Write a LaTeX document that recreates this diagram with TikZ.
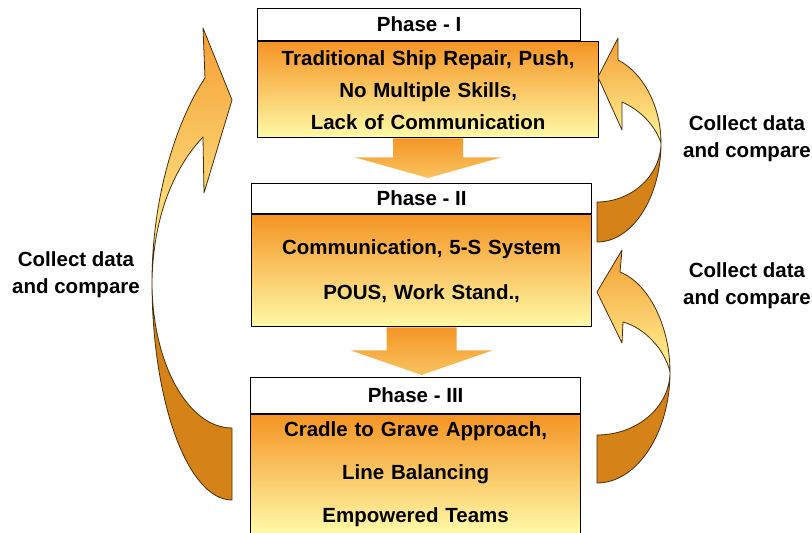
\documentclass[tikz,border=0pt]{standalone}
\usepackage{fontspec}
\setmainfont{Liberation Sans}
\usepackage{tikz}
\usetikzlibrary{positioning}
\usetikzlibrary{calc}
\usetikzlibrary{backgrounds}
\definecolor{boxtop}{RGB}{245,148,35}
\definecolor{boxmid}{RGB}{252,218,112}
\definecolor{boxbot}{RGB}{255,250,168}
\definecolor{arrtop}{RGB}{244,150,38}
\definecolor{arrbot}{RGB}{250,195,95}
\definecolor{bendlight}{RGB}{245,158,52}
\definecolor{bendpale}{RGB}{255,245,150}
\definecolor{benddarkc}{RGB}{213,130,25}
\definecolor{bendline}{RGB}{70,45,15}

\begin{document}
\begin{tikzpicture}[x=1pt,y=-1pt,line join=round,
  phasehead/.style={draw=black,line width=1.2pt,fill=white,inner sep=0pt,anchor=north west,font=\fontsize{20.5}{24}\selectfont\bfseries},
  phasebody/.style={draw=black,line width=1.2pt,top color=boxtop,middle color=boxmid,bottom color=boxbot,inner sep=0pt,anchor=north west,align=center},
  downarr/.style={top color=arrtop,bottom color=arrbot},
  bendpart/.style={draw=bendline,line width=0.8pt,top color=bendlight,bottom color=bendpale},
  benddark/.style={draw=bendline,line width=0.8pt,fill=benddarkc},
  note/.style={align=center,inner sep=0pt,font=\fontsize{20.5}{27}\selectfont\bfseries}]
\useasboundingbox (0,0) rectangle (812,533);
% phase boxes
\node[phasehead,minimum width=323,minimum height=32] (head1) at (257,8) {Phase - I};
\node[phasebody,minimum width=341,minimum height=96,text width=335,font=\fontsize{20.5}{32}\selectfont\bfseries] (body1) at (head1.south west) {Traditional Ship Repair, Push,\\No Multiple Skills,\\Lack of Communication};
\node[phasehead,minimum width=340,minimum height=30] (head2) at (251,183) {Phase - II};
\node[phasebody,minimum width=340,minimum height=112,text width=334,font=\fontsize{20.5}{45}\selectfont\bfseries] (body2) at (head2.south west) {Communication, 5-S System\\POUS, Work Stand.,};
\node[phasehead,minimum width=330,minimum height=36] (head3) at (250,377) {Phase - III};
\node[phasebody,minimum width=330,minimum height=119,text width=324,font=\fontsize{20.5}{43}\selectfont\bfseries] (body3) at (head3.south west) {Cradle to Grave Approach,\\Line Balancing\\Empowered Teams};
% down arrows
\coordinate (tip1) at (body1.south |- head2.north);
\coordinate (tip2) at (body2.south |- head3.north);
\begin{pgfonlayer}{background}
\path[downarr] ($(body1.south)+(-35,0)$) -- ($(body1.south)+(35,0)$) -- ($(body1.south)+(35,19)$) -- ($(body1.south)+(73,19)$) -- ($(tip1)+(0,-5)$) -- ($(body1.south)+(-73,19)$) -- ($(body1.south)+(-35,19)$) -- cycle;
\path[downarr] ($(body2.south)+(-35,0)$) -- ($(body2.south)+(35,0)$) -- ($(body2.south)+(35,23)$) -- ($(body2.south)+(71,23)$) -- ($(tip2)+(0,-2)$) -- ($(body2.south)+(-71,23)$) -- ($(body2.south)+(-35,23)$) -- cycle;
\end{pgfonlayer}
% left loop
\path[bendpart] (152,282) .. controls (152,190) and (180,115) .. (205,78) -- (203,28) -- (232,100) -- (204,193) -- (203,137) .. controls (172,170) and (153,220) .. (152,282) -- cycle;
\path[benddark] (152,282) .. controls (152,402) and (188,500) .. (232,500) -- (232,428) .. controls (188,428) and (152,363) .. (152,282) -- cycle;
% right loops
\path[bendpart] (661,143) .. controls (661,105) and (642,72) .. (618,60) -- (618,38) -- (598,77) -- (622,130) -- (622,102) .. controls (640,110) and (655,125) .. (661,143) -- cycle;
\path[benddark] (661,143) .. controls (661,198) and (632,242) .. (597,242) -- (597,202) .. controls (632,202) and (661,175) .. (661,143) -- cycle;
\path[bendpart] (670,372) .. controls (670,325) and (648,283) .. (620,272) -- (622,250) -- (597,292) -- (622,343) -- (623,322) .. controls (645,328) and (665,350) .. (670,372) -- cycle;
\path[benddark] (670,372) .. controls (670,433) and (637,483) .. (597,483) -- (597,435) .. controls (637,435) and (670,407) .. (670,372) -- cycle;
% labels
\node[note] (note1) at (747,139) {Collect data\\and compare};
\node[note] (note2) at (747,286) {Collect data\\and compare};
\node[note] (note3) at (76,275) {Collect data\\and compare};
\end{tikzpicture}
\end{document}
